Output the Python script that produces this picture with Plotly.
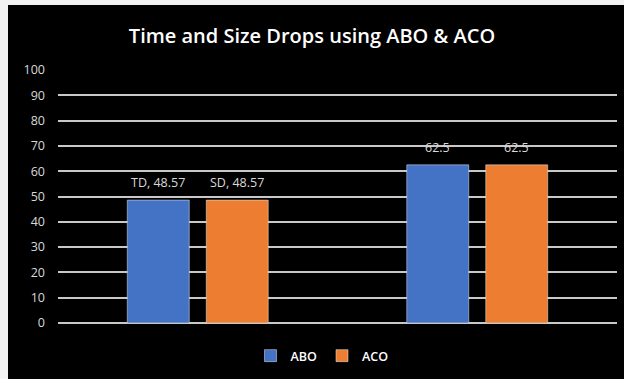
import plotly.graph_objects as go

# Chart data
categories = ["Group 1", "Group 2"]
abo_values = [48.57, 62.5]
aco_values = [48.57, 62.5]
abo_labels = ["TD, 48.57", "62.5"]
aco_labels = ["SD, 48.57", "62.5"]
y_ticks = list(range(0, 101, 10))

BLUE = "#4472C4"
ORANGE = "#ED7D31"
TEXT = "#d9d9d9"
GRID = "#c8c8c8"

W, H = 624, 379
ML, MR, MT, MB = 58, 7, 70, 56
BARGAP = 0.435
BARGROUPGAP = 0.215

fig = go.Figure()
fig.add_trace(go.Bar(name="ABO", x=categories, y=abo_values, marker_color=BLUE))
fig.add_trace(go.Bar(name="ACO", x=categories, y=aco_values, marker_color=ORANGE))

# value labels above each bar, offset to the centre of each bar slot
slot = (1 - BARGAP) / 2
annotations = []
for i, cat in enumerate(categories):
    for vals, labels, sign in ((abo_values, abo_labels, -1), (aco_values, aco_labels, 1)):
        annotations.append(dict(
            x=i + sign * slot / 2, y=vals[i], xref="x", yref="y",
            text=labels[i], showarrow=False, yanchor="bottom", yshift=7,
            font=dict(family="Open Sans", size=12.5, color=TEXT),
        ))

pw = W - ML - MR
ph = H - MT - MB
def px_x(p):
    return (p - ML) / pw
def px_y(p):
    return (H - MB - p) / ph

# light frame on the left and top edges
shapes = [
    dict(type="rect", xref="paper", yref="paper", x0=px_x(0), x1=px_x(8),
         y0=px_y(H), y1=px_y(0), fillcolor="#f2f2f2", line_width=0, layer="above"),
    dict(type="rect", xref="paper", yref="paper", x0=px_x(0), x1=px_x(W),
         y0=px_y(5), y1=px_y(0), fillcolor="#f2f2f2", line_width=0, layer="above"),
]

fig.update_layout(
    width=W, height=H,
    margin=dict(l=ML, r=MR, t=MT, b=MB),
    paper_bgcolor="black", plot_bgcolor="black",
    barmode="group", bargap=BARGAP, bargroupgap=BARGROUPGAP,
    title=dict(text="Time and Size Drops using ABO & ACO", x=0.5, xref="container",
               xanchor="center", y=0.905, yref="container", yanchor="middle",
               font=dict(family="Open Sans", size=20, color="white", weight=600)),
    legend=dict(orientation="h", x=px_x(322), xanchor="center", y=px_y(356),
                yanchor="middle", font=dict(family="Open Sans", size=12.5, color="white", weight=600),
                bgcolor="rgba(0,0,0,0)", itemwidth=30, traceorder="normal"),
    annotations=annotations,
    shapes=shapes,
    showlegend=True,
)
fig.update_xaxes(showticklabels=False, showgrid=False, zeroline=False, showline=False)
fig.update_yaxes(range=[0, 100], tickvals=y_ticks, showgrid=True, gridcolor=GRID, gridwidth=1.6,
                 zeroline=True, zerolinecolor=GRID, zerolinewidth=1.6, showline=False,
                 ticks="", ticklabelstandoff=12,
                 tickfont=dict(family="Open Sans", size=12.5, color=TEXT))

fig.write_html("out.html")
